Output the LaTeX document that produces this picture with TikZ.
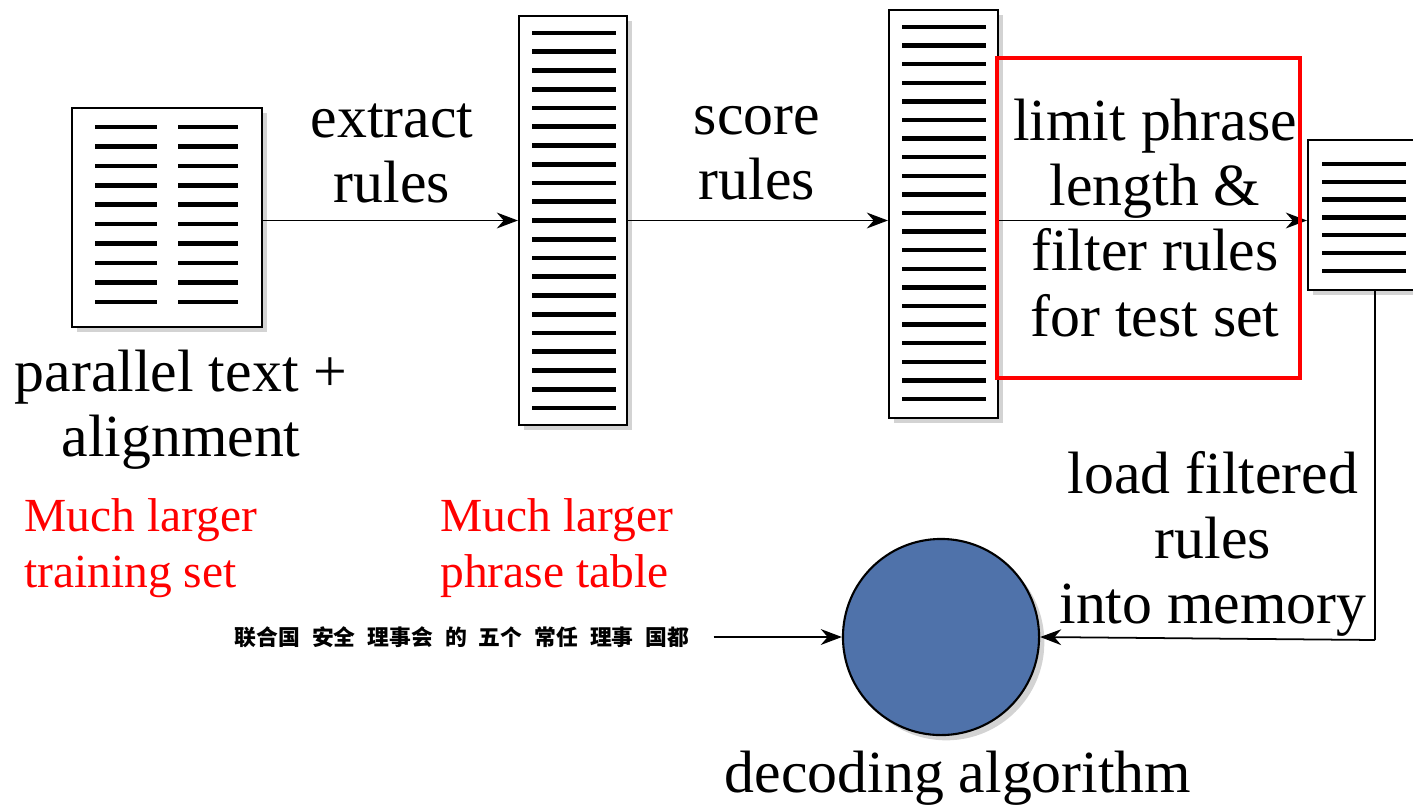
\documentclass[tikz,border=0pt]{standalone}
\usepackage{fontspec}
\setmainfont{Liberation Serif}
\newfontfamily\cjk{Noto Sans CJK SC}
\usetikzlibrary{arrows.meta,shadows}

\definecolor{decblue}{RGB}{79,114,170}

\tikzset{
  doc/.style={draw, fill=white, line width=0.6pt, inner sep=0pt,
    drop shadow={shadow xshift=1.5pt, shadow yshift=-1.5pt, opacity=0.35}},
  bar/.style={line width=1.3pt},
  flow/.style={->, line width=0.5pt},
  steptext/.style={font=\fontsize{17}{18.5}\selectfont, align=center},
  note/.style={text=red, anchor=west, align=left, font=\fontsize{13.5}{16}\selectfont}
}

\begin{document}
\begin{tikzpicture}[x=0.01cm, y=-0.01cm, >={Stealth[length=6pt,width=4.5pt]}]
\useasboundingbox (0,0) rectangle (1413,806);

% documents
\node[doc, minimum width=1.9cm, minimum height=2.19cm] (corpus) at (167,217.5) {};
\foreach \i in {0,...,9} {
  \draw[bar] (95,127+19.44*\i) -- (157,127+19.44*\i);
  \draw[bar] (178,127+19.44*\i) -- (238,127+19.44*\i);
}
\node[doc, minimum width=1.08cm, minimum height=4.09cm] (table) at (573,220.5) {};
\foreach \i in {0,...,20}
  \draw[bar] (532,33+18.75*\i) -- (616,33+18.75*\i);
\node[doc, minimum width=1.09cm, minimum height=4.08cm] (scored) at (943.5,214) {};
\foreach \i in {0,...,20}
  \draw[bar] (902,27+18.6*\i) -- (986,27+18.6*\i);
\node[doc, minimum width=1.12cm, minimum height=1.5cm] (filtered) at (1364,215) {};
\foreach \i in {0,...,6}
  \draw[bar] (1322,164+17.8*\i) -- (1406,164+17.8*\i);

% decoder
\node[circle, draw, fill=decblue, line width=0.6pt, minimum size=1.96cm,
  drop shadow={shadow xshift=1.5pt, shadow yshift=-1.5pt, opacity=0.35}] (dec) at (941,637) {};
\node[font=\cjk\bfseries\fontsize{6.2}{7}\selectfont] (input) at (462,637)
  {联合国\hspace{0.55em}安全\hspace{0.55em}理事会\hspace{0.55em}的\hspace{0.55em}五个\hspace{0.55em}常任\hspace{0.55em}理事\hspace{0.55em}国都};
\coordinate (drop) at (1375,640);

% pipeline arrows
\draw[flow] (corpus.east |- table.west) -- (table.west);
\draw[flow] (table.east) -- (scored.west |- table.east);
\draw[flow] (scored.east |- table.east) -- (filtered.west |- table.east);
\draw (filtered.south -| drop) -- (drop);
\draw[flow] (drop) -- (dec.east);
\draw[flow, shorten <=0.12cm] (input.east) -- (dec.west);

% step labels
\node[steptext] (extract) at (392,153) {extract\\rules};
\node[steptext] (score) at (757,153) {score\\rules};
\node[steptext] (limit) at (1155,218) {limit phrase\\length \&\\filter rules\\for test set};
\draw[red, line width=1.2pt] (997,58) rectangle (1300,378);
\node[steptext] (parallel) at (181,410) {parallel text +\\alignment};
\node[steptext] (load) at (1213,544) {load filtered\\rules\\into memory};
\node[steptext] (decoding) at (958,778) {decoding algorithm};

% remarks
\node[note] (bigcorpus) at (12,548) {Much larger\\training set};
\node[note] (bigtable) at (428,548) {Much larger\\phrase table};
\end{tikzpicture}
\end{document}
